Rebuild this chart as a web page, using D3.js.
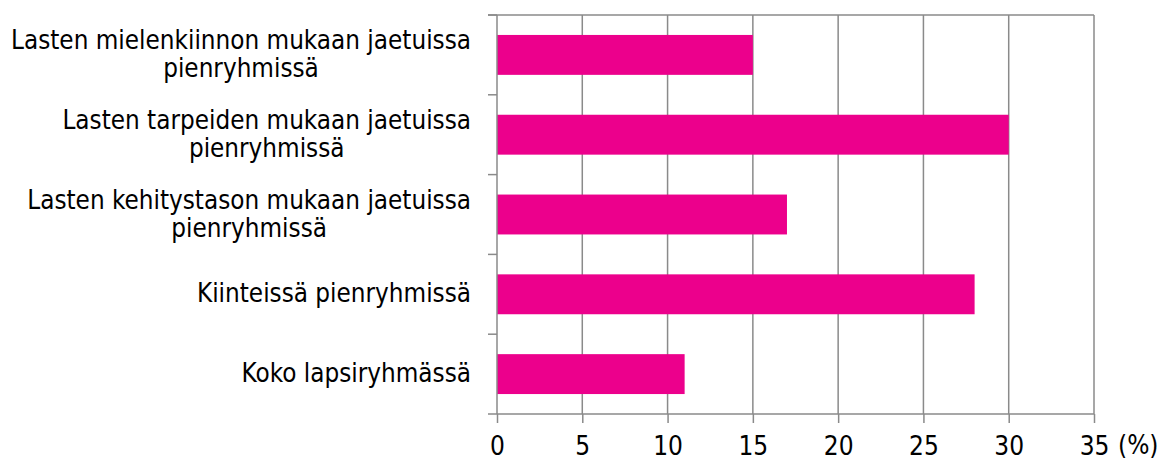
<!DOCTYPE html>
<html>
<head>
<meta charset="utf-8">
<script src="https://cdn.jsdelivr.net/npm/d3@7"></script>
<style>
  body { margin: 0; background: #fff; }
  text { font-family: "DejaVu Sans Condensed", "DejaVu Sans", sans-serif; font-stretch: condensed; fill: #000; }
</style>
</head>
<body>
<div id="chart"></div>
<script>
// data
var categories = [
    ["Lasten mielenkiinnon mukaan jaetuissa", "pienryhmissä"],
    ["Lasten tarpeiden mukaan jaetuissa", "pienryhmissä"],
    ["Lasten kehitystason mukaan jaetuissa", "pienryhmissä"],
    ["Kiinteissä pienryhmissä"],
    ["Koko lapsiryhmässä"]
];
var values = [15, 30, 17, 28, 11];
var xTicks = [0, 5, 10, 15, 20, 25, 30, 35];
var unitLabel = "(%)";

var svgWidth = 1167, svgHeight = 461;
var margin = { top: 15, right: 73, bottom: 47, left: 497 };
var chartWidth = svgWidth - margin.left - margin.right;
var chartHeight = svgHeight - margin.top - margin.bottom;

var svg = d3.select("#chart")
    .append("svg")
    .attr("width", svgWidth)
    .attr("height", svgHeight);

var chartGroup = svg.append("g")
    .attr("transform", `translate(${margin.left}, ${margin.top})`);

var xScale = d3.scaleLinear()
    .domain([0, 35])
    .range([0, chartWidth]);

var yScale = d3.scaleBand()
    .domain(d3.range(categories.length))
    .range([0, chartHeight])
    .paddingInner(0.5)
    .paddingOuter(0.25);

var gridColor = "#8a8a8a";

// vertical gridlines
chartGroup.append("g")
    .selectAll("line")
    .data(xTicks.slice(1))
    .enter()
    .append("line")
    .attr("x1", d => xScale(d))
    .attr("x2", d => xScale(d))
    .attr("y1", 0)
    .attr("y2", chartHeight)
    .attr("stroke", gridColor)
    .attr("stroke-width", 1.5);

// top border
chartGroup.append("line")
    .attr("x1", -9)
    .attr("x2", chartWidth)
    .attr("y1", 0)
    .attr("y2", 0)
    .attr("stroke", gridColor)
    .attr("stroke-width", 1.5);

// bars
chartGroup.append("g")
    .selectAll("rect")
    .data(values)
    .enter()
    .append("rect")
    .attr("x", xScale(0))
    .attr("y", (d, i) => yScale(i))
    .attr("width", d => xScale(d) - xScale(0))
    .attr("height", yScale.bandwidth())
    .attr("fill", "#ec008c");

// y axis line + category ticks
var step = chartHeight / categories.length;
chartGroup.append("line")
    .attr("x1", 0).attr("x2", 0)
    .attr("y1", 0).attr("y2", chartHeight)
    .attr("stroke", gridColor)
    .attr("stroke-width", 1.5);

chartGroup.append("g")
    .selectAll("line")
    .data(d3.range(categories.length + 1))
    .enter()
    .append("line")
    .attr("x1", -9).attr("x2", 0)
    .attr("y1", d => d * step).attr("y2", d => d * step)
    .attr("stroke", gridColor)
    .attr("stroke-width", 1.5);

// x axis
var xAxis = d3.axisBottom(xScale)
    .tickValues(xTicks)
    .tickSize(9)
    .tickPadding(14)
    .tickFormat(d3.format("d"));

var xAxisGroup = chartGroup.append("g")
    .attr("transform", `translate(0, ${chartHeight})`)
    .call(xAxis);

xAxisGroup.select(".domain")
    .attr("stroke", gridColor)
    .attr("stroke-width", 1.5)
    .attr("d", `M0,0H${chartWidth}`);
xAxisGroup.selectAll(".tick line")
    .attr("stroke", gridColor)
    .attr("stroke-width", 1.5);
xAxisGroup.selectAll(".tick text")
    .attr("font-size", 26)
    .attr("font-family", null)
    .attr("fill", "#000");

chartGroup.append("text")
    .attr("x", chartWidth + 24)
    .attr("y", chartHeight + 40)
    .attr("font-size", 26)
    .text(unitLabel);

// category labels, lines centered within block, block right-aligned
var labelRight = -26;
var lineHeight = 28;
categories.forEach(function(lines, i) {
    var g = chartGroup.append("g");
    var cy = yScale(i) + yScale.bandwidth() / 2;
    var texts = lines.map(function(line, j) {
        return g.append("text")
            .attr("font-size", 25.8)
            .attr("text-anchor", "middle")
            .attr("y", cy + 8 + (j - (lines.length - 1) / 2) * lineHeight)
            .text(line);
    });
    var maxW = d3.max(texts, t => t.node().getComputedTextLength());
    texts.forEach(t => t.attr("x", labelRight - maxW / 2));
});
</script>
</body>
</html>
